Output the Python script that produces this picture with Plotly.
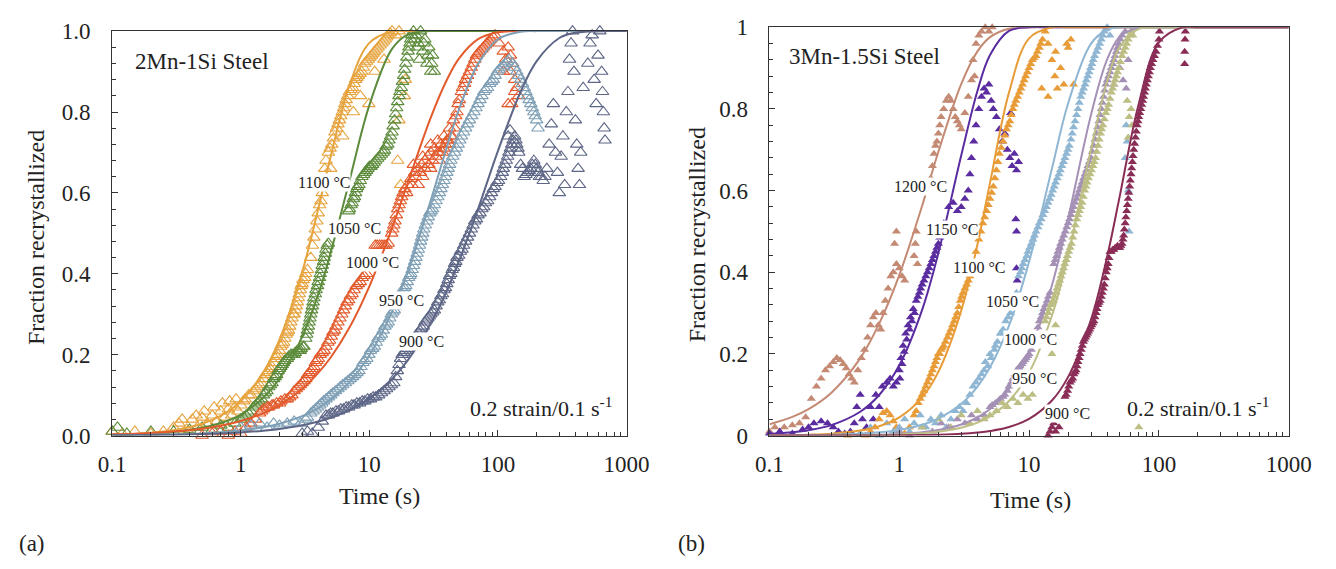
import plotly.graph_objects as go

W, H = 1336, 569

# ---------------- Panel (a): 2Mn-1Si steel (open triangles) ----------------
a_t_1100 = [0.1,0.12,0.15,0.2,0.25,0.3,0.33,0.38,0.42,0.46,0.5,0.55,0.6,0.65,0.7,0.75,0.8,0.85,0.9,0.95,1.0,1.08,1.15,1.25,1.35,1.45,1.55,1.65,1.75,1.85,1.95,2.05,2.15,2.25,2.35,2.45,2.55,2.65,2.75,2.85,2.95,3.05,3.2,3.3,3.5,3.7,3.9,4.1,4.3,4.5,4.8,5.1,5.4,5.7,6.0,6.3,6.6,7.0,7.4,7.8,8.2,8.7,9.2,9.8,10.4,11,11.7,12.5,13.3,14,15,16,17,5.0,6.2,7.5,8.5,9.9,11,13,16.6,17.5,18.7,19,17,
            1.05,1.2,1.3,1.4,1.5,1.6,1.7,1.8,1.9,2.0,2.1,2.2,2.3,2.4,2.5,2.6,2.7,2.8,2.9,3.0,3.15,3.6,3.8,4.0,4.2,4.6,4.95,5.25,5.55,5.85,6.15,6.45,6.8,7.2,7.6,8.0,8.45,8.95,9.5,10.1,10.7,11.4,12.1,12.9,13.6,14.5,0.52,0.62,0.72,0.82,0.92,0.35,0.45]
a_f_1100 = [0.01,0.005,0.01,0.005,0.01,0.02,0.03,0.015,0.04,0.02,0.045,0.03,0.05,0.035,0.06,0.045,0.065,0.05,0.07,0.06,0.075,0.09,0.1,0.11,0.12,0.13,0.15,0.16,0.17,0.19,0.2,0.22,0.23,0.25,0.26,0.28,0.3,0.31,0.33,0.35,0.37,0.385,0.4,0.41,0.44,0.49,0.53,0.57,0.6,0.66,0.7,0.72,0.75,0.77,0.79,0.81,0.83,0.85,0.86,0.88,0.89,0.9,0.92,0.93,0.94,0.95,0.96,0.97,0.98,0.99,1.0,0.99,1.0,0.66,0.74,0.8,0.84,0.82,0.9,0.93,0.68,0.62,0.84,0.88,0.78,
            0.085,0.1,0.115,0.125,0.14,0.155,0.165,0.18,0.195,0.21,0.225,0.24,0.255,0.27,0.29,0.3,0.32,0.34,0.36,0.375,0.39,0.47,0.51,0.55,0.58,0.68,0.71,0.735,0.76,0.78,0.8,0.82,0.84,0.855,0.87,0.885,0.895,0.91,0.925,0.935,0.945,0.955,0.965,0.975,0.985,0.995,0.06,0.07,0.08,0.085,0.09,0.04,0.05]

a_t_1050 = [0.1,0.11,0.13,0.2,0.3,0.4,0.5,0.6,0.7,0.8,0.9,1.0,1.1,1.2,1.3,1.4,1.5,1.6,1.7,1.8,1.9,2.0,2.1,2.2,2.35,2.5,2.65,2.8,2.95,3.1,3.2,3.3,3.4,3.5,3.6,3.7,3.85,4.0,4.15,4.3,4.45,4.6,4.8,6.9,7.2,7.5,7.8,8.1,8.5,9.0,9.5,10,10.6,11.2,12,12.8,13.5,14.2,15,15.7,16.3,17,17.7,18.5,19.2,20,20.7,21.4,22,23,24,25,26,27,28,29,30,31,24.5,
            1.05,1.15,1.25,1.35,1.45,1.55,1.65,1.75,1.85,1.95,2.05,2.15,2.3,2.45,2.6,2.75,2.9,3.05,3.25,3.35,3.45,3.55,3.65,3.8,3.95,4.1,4.25,4.4,4.55,4.7,7.0,7.35,7.65,7.95,8.3,8.75,9.25,9.75,10.3,10.9,11.6,12.4,13.1,13.9,14.6,15.3,16,16.6,17.3,18.1,18.8,19.6,20.3,21,22.5,23.5,26.5,28.5,30.5,32]
a_f_1050 = [0.01,0.02,0.005,0.01,0.01,0.015,0.02,0.015,0.025,0.02,0.03,0.04,0.05,0.06,0.075,0.085,0.1,0.11,0.125,0.14,0.15,0.165,0.175,0.185,0.195,0.2,0.205,0.21,0.215,0.22,0.24,0.26,0.28,0.3,0.32,0.34,0.36,0.38,0.4,0.42,0.44,0.46,0.475,0.555,0.57,0.585,0.6,0.615,0.63,0.645,0.655,0.665,0.67,0.68,0.69,0.7,0.715,0.73,0.75,0.78,0.81,0.84,0.86,0.89,0.92,0.95,0.97,0.99,1.0,0.99,0.97,1.0,0.95,0.98,0.92,0.96,0.9,0.94,0.93,
            0.045,0.055,0.07,0.08,0.09,0.105,0.12,0.13,0.145,0.16,0.17,0.18,0.19,0.2,0.2,0.21,0.21,0.22,0.25,0.27,0.29,0.31,0.33,0.35,0.37,0.39,0.41,0.43,0.45,0.47,0.56,0.575,0.59,0.61,0.62,0.64,0.65,0.66,0.665,0.675,0.685,0.695,0.705,0.72,0.74,0.765,0.795,0.825,0.85,0.875,0.905,0.935,0.96,0.98,0.98,0.96,0.97,0.94,0.92,0.9]

a_t_1000 = [0.5,0.6,0.7,0.8,0.9,1.0,1.1,1.2,1.3,1.4,1.5,1.6,1.75,1.9,2.05,2.2,2.4,2.6,2.8,3.0,3.2,3.4,3.6,3.8,4.0,4.3,4.6,4.9,5.2,5.5,5.9,6.3,6.7,7.1,7.6,8.2,8.8,9.5,11.1,12,13,14,14.9,15.5,16.2,17,17.8,18.9,20,21,22.5,24,25.5,27,28.5,30,32,34,36,38,40,42,44,46,48,50,53,56,60,64,68,72,77,82,88,95,102,110,115,120,125,130,135,140,145,120,26,30,35,24,
            19.5,21.5,23,25,27,29,31,33,35,37,39,41,43,22,26,30,34,38,42,45,47,49,52,55,58,62,66,70,75,80,85,92,1.45,1.65,1.8,2.0,2.3,2.5,2.7,2.9,3.1,3.3,3.5,3.7,3.9,4.15,4.45,4.75,5.05,5.35,5.7,6.1,6.5,6.9,7.35,7.9,8.5,9.1,11.5,12.5,13.5,15.2,15.8,16.6,17.4,18.3,110,125,135,128]
a_f_1000 = [0.0,0.005,0.01,0.0,0.01,0.005,0.02,0.03,0.04,0.055,0.065,0.07,0.075,0.08,0.085,0.09,0.095,0.11,0.12,0.13,0.14,0.155,0.165,0.18,0.19,0.205,0.22,0.235,0.255,0.27,0.29,0.31,0.33,0.345,0.36,0.375,0.39,0.4,0.47,0.47,0.47,0.475,0.5,0.52,0.545,0.57,0.59,0.61,0.62,0.635,0.65,0.66,0.67,0.68,0.69,0.7,0.71,0.7,0.72,0.71,0.73,0.72,0.74,0.76,0.8,0.83,0.86,0.88,0.9,0.92,0.94,0.95,0.96,0.97,0.98,0.99,0.97,0.95,0.93,0.96,0.9,0.92,0.88,0.86,0.84,0.82,0.64,0.66,0.68,0.62,
            0.6,0.62,0.64,0.65,0.66,0.67,0.68,0.69,0.7,0.7,0.72,0.73,0.74,0.67,0.69,0.72,0.73,0.74,0.76,0.78,0.79,0.82,0.85,0.87,0.89,0.91,0.93,0.945,0.955,0.965,0.975,0.985,0.06,0.07,0.075,0.08,0.09,0.1,0.115,0.125,0.135,0.15,0.16,0.17,0.185,0.2,0.21,0.23,0.245,0.26,0.28,0.3,0.32,0.335,0.35,0.37,0.38,0.395,0.47,0.47,0.47,0.51,0.53,0.56,0.58,0.6,0.9,0.94,0.85,0.82]

a_t_950 = [1.0,1.2,1.4,1.6,1.8,2.0,2.3,2.6,2.9,3.2,3.5,3.8,4.1,4.4,4.8,5.2,5.7,6.2,6.8,7.4,8.0,8.6,9.2,9.9,10.6,11.3,12,12.8,13.6,14.4,15.2,16,16.9,17.8,18.7,19.7,20.7,21.5,22.5,23.5,24.5,25.5,26.5,28,29.5,31,33,35,37,39,41,43,46,49,52,56,60,65,70,75,80,86,92,99,106,114,122,130,140,150,160,170,180,190,200,205,
           3.3,3.65,3.95,4.25,4.6,5.0,5.45,5.95,6.5,7.1,7.7,8.3,8.9,9.55,10.2,10.95,11.65,12.4,13.2,14,14.8,15.6,16.4,17.3,18.2,19.2,20.2,21,22,23,24,25,26,27.2,28.7,30.2,32,34,36,38,40,42,44.5,47.5,50.5,54,58,62.5,67.5,72.5,77.5,83,89,95,102,110,118,135,145,155,165,175,185,195]
a_f_950 = [0.02,0.025,0.03,0.02,0.03,0.025,0.03,0.035,0.03,0.04,0.055,0.065,0.075,0.085,0.095,0.105,0.115,0.125,0.135,0.145,0.155,0.17,0.185,0.2,0.215,0.23,0.245,0.26,0.275,0.29,0.305,0.32,0.335,0.35,0.365,0.38,0.395,0.41,0.43,0.45,0.47,0.49,0.51,0.53,0.55,0.56,0.58,0.6,0.62,0.64,0.66,0.68,0.7,0.72,0.74,0.76,0.78,0.8,0.82,0.84,0.855,0.87,0.88,0.9,0.91,0.92,0.93,0.92,0.9,0.88,0.86,0.84,0.82,0.8,0.78,0.76,
           0.045,0.06,0.07,0.08,0.09,0.1,0.11,0.12,0.13,0.14,0.15,0.16,0.18,0.19,0.21,0.22,0.24,0.25,0.27,0.28,0.3,0.31,0.33,0.34,0.36,0.37,0.39,0.4,0.42,0.44,0.46,0.48,0.5,0.52,0.54,0.555,0.57,0.59,0.61,0.63,0.65,0.67,0.69,0.71,0.73,0.75,0.77,0.79,0.81,0.83,0.85,0.86,0.875,0.89,0.905,0.915,0.925,0.91,0.89,0.87,0.85,0.83,0.81,0.79]

a_t_900 = [3.0,3.3,3.6,4.0,4.3,4.6,5.0,5.5,6.0,6.6,7.3,8.0,8.8,9.7,10.7,11.8,13,14.2,15.5,16.5,17.5,18.5,19.7,21,22.5,24,25.5,27,28.5,30,32,34,36,38,40,42,44,46,48,51,54,58,62,66,70,75,80,86,92,98,105,110,116,122,128,135,140,145,150,160,170,180,190,200,210,225,240,250,260,270,280,290,300,310,320,330,340,350,360,370,380,390,400,410,420,430,440,460,500,520,540,560,580,600,620,640,650,660,670,680,
           4.8,5.2,5.75,6.3,6.9,7.6,8.4,9.2,10.2,11.2,12.4,13.6,14.8,16,17,18,19,20.3,21.7,23.2,24.7,26.2,27.7,29.2,31,33,35,37,39,41,43,45,47,49.5,52.5,56,60,64,68,72.5,77.5,83,89,95,101,108,113,119,125,131,138,143,155,165,175,185,195,205,218,232,120,124]
a_f_900 = [0.005,0.01,0.005,0.02,0.035,0.05,0.055,0.06,0.065,0.07,0.075,0.08,0.085,0.09,0.095,0.1,0.11,0.12,0.13,0.16,0.19,0.205,0.215,0.225,0.24,0.255,0.265,0.28,0.29,0.3,0.31,0.33,0.345,0.36,0.375,0.395,0.41,0.425,0.44,0.455,0.47,0.49,0.51,0.53,0.545,0.56,0.575,0.59,0.61,0.625,0.64,0.66,0.68,0.7,0.72,0.74,0.72,0.7,0.67,0.64,0.65,0.66,0.68,0.66,0.64,0.63,0.66,0.72,0.77,0.82,0.7,0.65,0.6,0.69,0.74,0.62,0.8,0.85,0.93,0.97,1.0,0.9,0.78,0.72,0.66,0.62,0.7,0.86,0.92,0.97,0.99,0.88,0.82,0.94,1.0,0.9,0.85,0.8,0.76,0.73,
           0.05,0.055,0.06,0.065,0.07,0.075,0.08,0.085,0.09,0.095,0.105,0.115,0.125,0.145,0.175,0.2,0.21,0.22,0.23,0.245,0.26,0.27,0.285,0.295,0.305,0.32,0.335,0.35,0.365,0.385,0.4,0.415,0.43,0.445,0.46,0.48,0.5,0.52,0.535,0.55,0.565,0.58,0.6,0.615,0.63,0.65,0.67,0.69,0.71,0.73,0.73,0.71,0.66,0.645,0.655,0.67,0.67,0.65,0.64,0.64,0.74,0.755]

# fitted curves on a shared time grid
curve_t = [0.1,0.15,0.2,0.3,0.5,0.7,1,1.5,2,3,4,5,7,10,15,20,30,40,50,70,100,150,200,300,400,500,700,1000]
a_c_1100 = [0.002,0.004,0.007,0.013,0.029,0.049,0.085,0.157,0.237,0.404,0.56,0.69,0.866,0.971,0.999,1,1,1,1,1,1,1,1,1,1,1,1,1]
a_c_1050 = [0.0017,0.0031,0.0048,0.0088,0.019,0.031,0.052,0.094,0.141,0.244,0.349,0.452,0.63,0.817,0.956,0.992,1,1,1,1,1,1,1,1,1,1,1,1]
a_c_1000 = [0.0029,0.0045,0.0062,0.0097,0.017,0.0244,0.036,0.0554,0.0753,0.115,0.155,0.193,0.267,0.369,0.513,0.627,0.786,0.879,0.933,0.98,0.997,1,1,1,1,1,1,1]
a_c_950 = [0.0007,0.0012,0.0017,0.0028,0.0052,0.0079,0.0124,0.0203,0.029,0.048,0.068,0.089,0.132,0.198,0.307,0.408,0.581,0.713,0.808,0.919,0.98,0.9985,1,1,1,1,1,1]
a_c_900 = [0.0006,0.001,0.0013,0.002,0.0036,0.0052,0.0077,0.012,0.0163,0.0253,0.0346,0.044,0.063,0.092,0.14,0.187,0.277,0.358,0.433,0.56,0.704,0.85,0.926,0.983,0.996,0.999,1,1]

# ---------------- Panel (b): 3Mn-1.5Si steel (filled triangles) ----------------
b_t_1200 = [0.1,0.11,0.12,0.13,0.15,0.17,0.19,0.21,0.23,0.25,0.27,0.29,0.31,0.33,0.35,0.37,0.39,0.41,0.43,0.45,0.48,0.51,0.54,0.57,0.6,0.63,0.66,0.69,0.72,0.75,0.78,0.82,0.86,0.9,0.95,1.0,1.05,1.1,0.92,0.95,1.3,1.33,1.35,1.38,1.7,1.75,1.8,1.85,1.9,1.95,2.0,2.05,2.1,2.2,2.3,2.4,2.5,2.6,2.7,2.8,2.9,3.0,3.2,3.4,3.6,3.7,3.9,4.1,4.3,4.6,4.9,5.2,3.8]
b_f_1200 = [0.01,0.02,0.005,0.02,0.025,0.03,0.045,0.09,0.12,0.14,0.16,0.17,0.18,0.19,0.185,0.175,0.165,0.15,0.14,0.13,0.16,0.19,0.21,0.24,0.27,0.29,0.3,0.27,0.26,0.3,0.33,0.36,0.39,0.4,0.42,0.41,0.39,0.38,0.47,0.5,0.44,0.47,0.5,0.42,0.6,0.63,0.66,0.69,0.71,0.72,0.74,0.76,0.78,0.8,0.82,0.83,0.82,0.8,0.78,0.77,0.76,0.75,0.79,0.83,0.87,0.92,0.96,0.98,0.99,1.0,0.99,1.0,0.88]

b_t_1150 = [0.1,0.12,0.15,0.18,0.2,0.22,0.25,0.28,0.31,0.34,0.38,0.42,0.45,0.47,0.5,0.52,0.56,0.6,0.63,0.66,0.7,0.74,0.8,0.85,0.9,0.95,1.0,1.03,1.07,1.12,1.17,1.22,1.28,1.35,1.43,1.5,1.6,1.7,1.8,1.9,2.0,2.1,2.2,2.4,2.6,2.8,3.0,3.2,3.4,3.5,3.6,3.75,3.9,4.1,4.3,4.5,4.7,4.9,5.1,5.3,5.6,5.9,6.2,6.5,6.8,7.1,7.4,7.7,8.0,8.3,7.2,7.9,8.0,8.0,8.1,
            1.01,1.05,1.09,1.14,1.2,1.25,1.31,1.39,1.46,1.55,1.65,1.75,1.85,1.95,2.05]
b_f_1150 = [0.005,0.01,0.005,0.015,0.02,0.03,0.035,0.03,0.02,0.01,0.005,0.01,0.03,0.07,0.1,0.04,0.02,0.07,0.04,0.1,0.07,0.12,0.13,0.14,0.12,0.13,0.16,0.19,0.22,0.25,0.27,0.29,0.31,0.33,0.35,0.37,0.39,0.41,0.43,0.45,0.47,0.5,0.52,0.56,0.57,0.55,0.56,0.58,0.6,0.64,0.68,0.72,0.76,0.8,0.83,0.85,0.84,0.86,0.82,0.8,0.78,0.75,0.72,0.74,0.7,0.68,0.66,0.69,0.65,0.67,0.79,0.53,0.5,0.41,0.38,
            0.14,0.175,0.205,0.235,0.26,0.28,0.3,0.34,0.36,0.38,0.4,0.42,0.44,0.46,0.485]

b_t_1100 = [0.4,0.5,0.55,0.6,0.65,0.7,0.75,0.8,0.85,0.9,0.95,1.0,1.1,1.2,1.3,1.4,1.5,1.6,1.7,1.8,1.9,2.0,2.1,2.2,2.35,2.5,2.65,2.8,2.95,3.1,3.3,3.5,3.9,4.1,4.4,4.7,5.0,5.3,5.6,5.9,6.3,6.7,7.1,7.5,7.9,8.4,8.9,9.4,10,10.6,11.3,12,12.7,13.3,14,15,15.8,16.5,17.5,18.5,19.5,21,22,12.5,14,16,20,
            1.35,1.45,1.55,1.65,1.75,1.85,1.95,2.05,2.15,2.27,2.42,2.57,2.72,2.87,3.02,3.2,3.4,4.25,4.55,4.85,5.15,5.45,5.75,6.1,6.5,6.9,7.3,7.7,8.15,8.65,9.15,9.7,10.3,10.9,11.6,12.3]
b_f_1100 = [0.0,0.005,0.0,0.01,0.02,0.04,0.055,0.06,0.05,0.035,0.02,0.01,0.005,0.02,0.05,0.08,0.1,0.12,0.14,0.16,0.18,0.2,0.21,0.22,0.24,0.26,0.28,0.3,0.33,0.35,0.37,0.39,0.45,0.48,0.52,0.55,0.58,0.61,0.65,0.69,0.72,0.75,0.77,0.8,0.82,0.84,0.86,0.88,0.9,0.92,0.93,0.95,0.97,0.99,0.96,0.92,0.88,0.85,0.9,0.86,0.96,0.97,0.86,0.85,0.83,0.94,0.95,
            0.06,0.09,0.11,0.13,0.15,0.17,0.19,0.2,0.215,0.23,0.25,0.27,0.29,0.315,0.34,0.36,0.38,0.5,0.535,0.565,0.595,0.63,0.67,0.705,0.735,0.76,0.785,0.81,0.83,0.85,0.87,0.89,0.91,0.925,0.94,0.96]

b_t_1050 = [0.5,0.6,0.7,0.8,0.9,1.0,1.1,1.2,1.3,1.45,1.6,1.75,1.9,2.1,2.3,2.5,2.7,2.9,3.1,3.3,3.5,3.7,3.9,4.1,4.3,4.5,4.8,5.1,5.4,5.7,6.0,6.3,6.6,6.9,8.3,8.8,9.3,9.8,10.4,11,11.7,12.4,13.2,14,14.8,15.6,16.5,17.4,18.4,19.4,20.4,21.5,22.6,23.8,25,26.3,27.6,29,30.5,32,34,36,38,40,42,55,57,58,59,56,
            7.2,7.6,8.0,8.6,9.0,9.6,10.1,10.7,11.3,12,12.8,13.6,14.4,15.2,16,17,17.9,18.9,19.9,21,22,23.2,24.4,25.6,27,28.3,29.7,31.2,33,35,37,39,4.6,5.0,5.5,6.1]
b_f_1050 = [0.005,0.02,0.0,0.03,0.01,0.02,0.04,0.01,0.03,0.05,0.02,0.04,0.03,0.05,0.02,0.04,0.06,0.07,0.06,0.08,0.1,0.12,0.13,0.14,0.15,0.16,0.17,0.19,0.21,0.23,0.25,0.26,0.28,0.29,0.39,0.41,0.43,0.45,0.47,0.49,0.51,0.53,0.55,0.57,0.59,0.61,0.63,0.65,0.67,0.69,0.71,0.74,0.77,0.8,0.83,0.85,0.87,0.89,0.91,0.93,0.95,0.97,0.99,1.0,0.98,0.68,0.72,0.6,0.5,0.76,
            0.3,0.32,0.35,0.4,0.42,0.44,0.46,0.48,0.5,0.52,0.54,0.56,0.58,0.6,0.62,0.64,0.66,0.68,0.7,0.725,0.755,0.785,0.815,0.84,0.86,0.88,0.9,0.92,0.94,0.96,0.98,0.995,0.18,0.2,0.22,0.25]

b_t_1000 = [1.0,1.2,1.5,1.8,2.1,2.4,2.8,3.2,3.6,4.0,4.5,5.0,5.5,6.0,6.5,7.0,7.5,8.0,8.5,9.0,9.5,10,10.7,11.4,12,12.7,13.4,14.1,15.5,16.3,17.1,18,19,20,21,22,23.2,24.4,25.6,27,28.4,30,31.5,33,34.5,36,37.5,39,41,43,45,47,49,52,55,50,53,56,58,45,
            5.2,5.8,6.3,6.8,7.3,7.8,8.3,8.8,9.3,9.8,10.4,11,11.7,12.4,13,13.8,14.5,15.9,16.7,17.5,18.5,19.5,20.5,21.5,22.6,23.8,25,26.3,27.7,29.2,30.7,32.2,33.7,35.2,36.7,38.2,40,42,44,46,48,50.5]
b_f_1000 = [0.01,0.0,0.02,0.01,0.03,0.02,0.04,0.03,0.05,0.04,0.05,0.07,0.08,0.09,0.1,0.12,0.14,0.16,0.17,0.18,0.19,0.2,0.22,0.25,0.28,0.3,0.32,0.34,0.42,0.44,0.46,0.48,0.5,0.52,0.54,0.56,0.58,0.6,0.62,0.64,0.66,0.68,0.71,0.74,0.77,0.8,0.83,0.86,0.88,0.9,0.92,0.94,0.96,0.98,0.99,0.9,0.87,0.85,0.92,0.86,
            0.075,0.085,0.095,0.11,0.13,0.15,0.165,0.175,0.185,0.195,0.21,0.235,0.265,0.29,0.31,0.33,0.35,0.43,0.45,0.47,0.49,0.51,0.53,0.55,0.57,0.59,0.61,0.63,0.65,0.67,0.695,0.725,0.755,0.785,0.815,0.845,0.87,0.89,0.91,0.93,0.95,0.97]

b_t_950 = [1.5,2.0,2.5,3.0,3.5,4.0,4.5,5.0,5.6,6.2,6.8,7.5,8.2,9.0,9.8,10.6,13.3,14,14.7,15.4,16.1,16.8,17.6,18.4,19.3,20.2,21.2,22.2,23.3,24.4,25.6,26.8,28,29.5,31,32.5,34,35.5,37,39,41,43,45,47,49,52,55,58,61,63,57,59,61,58,62,70,15,15.5,16,
           13.6,14.3,15,15.7,16.4,17.2,18,18.8,19.7,20.7,21.7,22.7,23.8,25,26.2,27.4,28.7,30.2,31.7,33.2,34.7,36.2,38,40,42,44,46,48,50.5,53.5,56.5,59.5]
b_f_950 = [0.02,0.04,0.02,0.05,0.03,0.06,0.04,0.05,0.06,0.08,0.07,0.09,0.08,0.1,0.09,0.1,0.28,0.3,0.32,0.33,0.35,0.37,0.39,0.41,0.43,0.45,0.47,0.5,0.53,0.55,0.57,0.6,0.62,0.64,0.66,0.68,0.71,0.74,0.76,0.79,0.81,0.84,0.86,0.88,0.9,0.93,0.95,0.97,0.99,0.98,0.82,0.78,0.8,0.73,0.76,0.02,0.2,0.24,0.27,
           0.29,0.31,0.325,0.34,0.36,0.38,0.4,0.42,0.44,0.46,0.485,0.515,0.54,0.56,0.585,0.61,0.63,0.65,0.67,0.695,0.725,0.75,0.775,0.8,0.825,0.85,0.87,0.89,0.915,0.94,0.96,0.98]

b_t_900 = [14,14.5,15,15.5,16,17,18.9,19.8,20.7,21.7,22.6,23.4,24.3,25.2,26.2,27.2,28.2,29.3,30.4,31.6,32.8,34,35.3,36.6,38,39.3,40.7,42,44,46,48,50,52,53.5,55,56.5,58,59.5,61,62.5,64,66,68,70,72.5,75,77.5,80,83,86,90,95,100,101,158,158,159,160,
           19.3,20.2,21.2,22.1,23,23.8,24.7,25.7,26.7,27.7,28.7,29.8,31,32.2,33.4,34.6,36,37.3,38.6,40,41.3,43,45,47,49,51,52.8,54.2,55.7,57.2,58.7,60.2,61.7,63.2,65,67,69,71.2,73.7,76.2,78.7,81.5,84.5,88,92.5,97.5]
b_f_900 = [0.0,0.01,0.02,0.03,0.01,0.02,0.095,0.11,0.13,0.14,0.155,0.17,0.19,0.21,0.23,0.24,0.25,0.26,0.27,0.28,0.3,0.32,0.33,0.35,0.37,0.4,0.42,0.45,0.455,0.46,0.465,0.46,0.47,0.49,0.52,0.55,0.58,0.61,0.64,0.67,0.7,0.73,0.76,0.78,0.8,0.82,0.84,0.86,0.88,0.9,0.92,0.94,0.97,0.99,0.91,0.94,0.97,0.99,
           0.1,0.12,0.135,0.15,0.16,0.18,0.2,0.22,0.235,0.245,0.255,0.265,0.275,0.29,0.31,0.325,0.34,0.36,0.385,0.41,0.435,0.45,0.455,0.46,0.46,0.465,0.48,0.505,0.535,0.565,0.595,0.625,0.655,0.685,0.715,0.745,0.77,0.79,0.81,0.83,0.85,0.87,0.89,0.91,0.93,0.955]

b_c_1200 = [0.0277,0.0456,0.0646,0.105,0.189,0.274,0.393,0.563,0.695,0.861,0.941,0.976,0.9966,1,1,1,1,1,1,1,1,1,1,1,1,1,1,1]
b_c_1150 = [0.0042,0.0082,0.0132,0.0256,0.0583,0.0993,0.172,0.308,0.447,0.686,0.844,0.932,0.991,1,1,1,1,1,1,1,1,1,1,1,1,1,1,1]
b_c_1100 = [0.0006,0.0012,0.0021,0.0046,0.0121,0.0228,0.0443,0.0933,0.156,0.306,0.468,0.619,0.84,0.973,1,1,1,1,1,1,1,1,1,1,1,1,1,1]
b_c_1050 = [0.0003,0.0007,0.0011,0.002,0.0046,0.0078,0.0138,0.0263,0.0413,0.0776,0.12,0.167,0.269,0.426,0.654,0.814,0.96,0.994,1,1,1,1,1,1,1,1,1,1]
b_c_1000 = [0.0001,0.0002,0.0003,0.0005,0.0012,0.0021,0.004,0.0081,0.0134,0.027,0.0443,0.0649,0.114,0.202,0.368,0.532,0.786,0.922,0.977,0.9989,1,1,1,1,1,1,1,1]
b_c_950 = [0.0,0.0001,0.0002,0.0003,0.0008,0.0014,0.0027,0.0055,0.0092,0.019,0.0317,0.047,0.0845,0.154,0.294,0.442,0.702,0.869,0.952,0.9962,1,1,1,1,1,1,1,1]
b_c_900 = [0.0,0.0,0.0,0.0001,0.0001,0.0002,0.0005,0.0011,0.002,0.0042,0.0073,0.0111,0.0209,0.0407,0.0858,0.1437,0.284,0.439,0.587,0.813,0.963,0.9992,1,1,1,1,1,1]

temps_a = ["1100 °C", "1050 °C", "1000 °C", "950 °C", "900 °C"]
temps_b = ["1200 °C", "1150 °C", "1100 °C", "1050 °C", "1000 °C", "950 °C", "900 °C"]
x_ticks = [0.1, 1, 10, 100, 1000]
x_ticktext = ["0.1", "1", "10", "100", "1000"]
y_ticks = [0, 0.2, 0.4, 0.6, 0.8, 1.0]
y_ticktext_a = ["0.0", "0.2", "0.4", "0.6", "0.8", "1.0"]
y_ticktext_b = ["0", "0.2", "0.4", "0.6", "0.8", "1"]

cols_a = ["#E6A33E", "#5C8B3B", "#E35A2C", "#7E9FB5", "#5D6686"]
cols_b = ["#C48A74", "#5A2CA0", "#E89C38", "#8FB6D3", "#A591B6", "#BCBE83", "#8A2D56"]

series_a = [(a_t_1100, a_f_1100, a_c_1100), (a_t_1050, a_f_1050, a_c_1050),
            (a_t_1000, a_f_1000, a_c_1000), (a_t_950, a_f_950, a_c_950),
            (a_t_900, a_f_900, a_c_900)]
series_b = [(b_t_1200, b_f_1200, b_c_1200), (b_t_1150, b_f_1150, b_c_1150),
            (b_t_1100, b_f_1100, b_c_1100), (b_t_1050, b_f_1050, b_c_1050),
            (b_t_1000, b_f_1000, b_c_1000), (b_t_950, b_f_950, b_c_950),
            (b_t_900, b_f_900, b_c_900)]

FONT = "Liberation Serif"
fig = go.Figure()

for (t, f, c), col, name in zip(series_a, cols_a, temps_a):
    fig.add_trace(go.Scatter(x=t, y=f, mode="markers", name=name, xaxis="x", yaxis="y",
                             marker=dict(symbol="triangle-up-open", size=11, color=col,
                                         line=dict(width=1.1, color=col)),
                             cliponaxis=False, showlegend=False))
for (t, f, c), col, name in zip(series_a, cols_a, temps_a):
    fig.add_trace(go.Scatter(x=curve_t, y=c, mode="lines", name=name + " fit", xaxis="x", yaxis="y",
                             line=dict(color=col, width=2, shape="spline"), showlegend=False))

for (t, f, c), col, name in zip(series_b, cols_b, temps_b):
    fig.add_trace(go.Scatter(x=t, y=f, mode="markers", name=name, xaxis="x2", yaxis="y2",
                             marker=dict(symbol="triangle-up", size=8, color=col, line=dict(width=0)),
                             cliponaxis=False, showlegend=False))
for (t, f, c), col, name in zip(series_b, cols_b, temps_b):
    fig.add_trace(go.Scatter(x=curve_t, y=c, mode="lines", name=name + " fit", xaxis="x2", yaxis="y2",
                             line=dict(color=col, width=2, shape="spline"), showlegend=False))

def px(x):
    return x / W

def py(y):
    return 1 - y / H

axis_common = dict(showline=True, linecolor="#333333", linewidth=1, mirror=True,
                   showgrid=False, zeroline=False, ticks="inside", ticklen=6,
                   tickcolor="#333333", tickfont=dict(family=FONT, size=23, color="#222222"))
minor_x = dict(ticks="inside", ticklen=4, tickcolor="#333333",
               tickmode="array",
               tickvals=[m * 10 ** e for e in (-1, 0, 1, 2) for m in range(2, 10)])
minor_y = dict(ticks="inside", ticklen=4, tickcolor="#333333", tickmode="array",
               tickvals=[0.04 * i for i in range(26) if i % 5 != 0])

fig.update_layout(
    width=W, height=H, margin=dict(l=0, r=0, t=0, b=0),
    paper_bgcolor="white", plot_bgcolor="white", showlegend=False,
    xaxis=dict(type="log", range=[-1, 3], domain=[px(101), px(630)], anchor="y",
               tickmode="array", tickvals=x_ticks, ticktext=x_ticktext, minor=minor_x,
               ticklabelstandoff=8, **axis_common),
    yaxis=dict(range=[0, 1], domain=[py(443), py(20)], anchor="x",
               tickmode="array", tickvals=y_ticks, ticktext=y_ticktext_a, minor=minor_y,
               ticklabelstandoff=16, **axis_common),
    xaxis2=dict(type="log", range=[-1, 3], domain=[px(777), px(1311)], anchor="y2",
                tickmode="array", tickvals=x_ticks, ticktext=x_ticktext, minor=minor_x,
                ticklabelstandoff=8, **axis_common),
    yaxis2=dict(range=[0, 1], domain=[py(443), py(16)], anchor="x2",
                tickmode="array", tickvals=y_ticks, ticktext=y_ticktext_b, minor=minor_y,
                ticklabelstandoff=16, **axis_common),
)

ann = []
def text(x, y, s, size, xanchor="center", angle=0, bg=None):
    d = dict(x=px(x), y=py(y), xref="paper", yref="paper", text=s, showarrow=False,
             xanchor=xanchor, yanchor="middle", textangle=angle,
             font=dict(family=FONT, size=size, color="#222222"))
    if bg:
        d.update(bgcolor=bg, borderpad=0)
    ann.append(d)

# axis titles
text(22, 236, "Fraction recrystallized", 24, angle=-90)
text(702, 233, "Fraction recrystallized", 24, angle=-90)
text(376, 506, "Time (s)", 24)
text(1045, 510, "Time (s)", 24)
# panel letters
text(18, 556, "(a)", 23)
text(697, 556, "(b)", 23)
# in-plot labels
text(122, 52, "2Mn-1Si Steel", 23, xanchor="left")
text(795, 47, "3Mn-1.5Si Steel", 23, xanchor="left")
text(617, 413, "0.2 strain/0.1 s<sup>-1</sup>", 22, xanchor="right")
text(1293, 413, "0.2 strain/0.1 s<sup>-1</sup>", 22, xanchor="right")

pos_a = [(319, 178), (350, 226), (369, 262), (399, 302), (419, 345)]
for (x, y), s in zip(pos_a, temps_a):
    text(x, y, s, 16, bg="white")
pos_b = [(932, 182), (965, 228), (992, 267), (1027, 303), (1045, 343), (1050, 383), (1083, 420)]
for (x, y), s in zip(pos_b, temps_b):
    text(x, y, s, 16, bg="white")

fig.update_layout(annotations=ann)
fig.write_html("out.html")
